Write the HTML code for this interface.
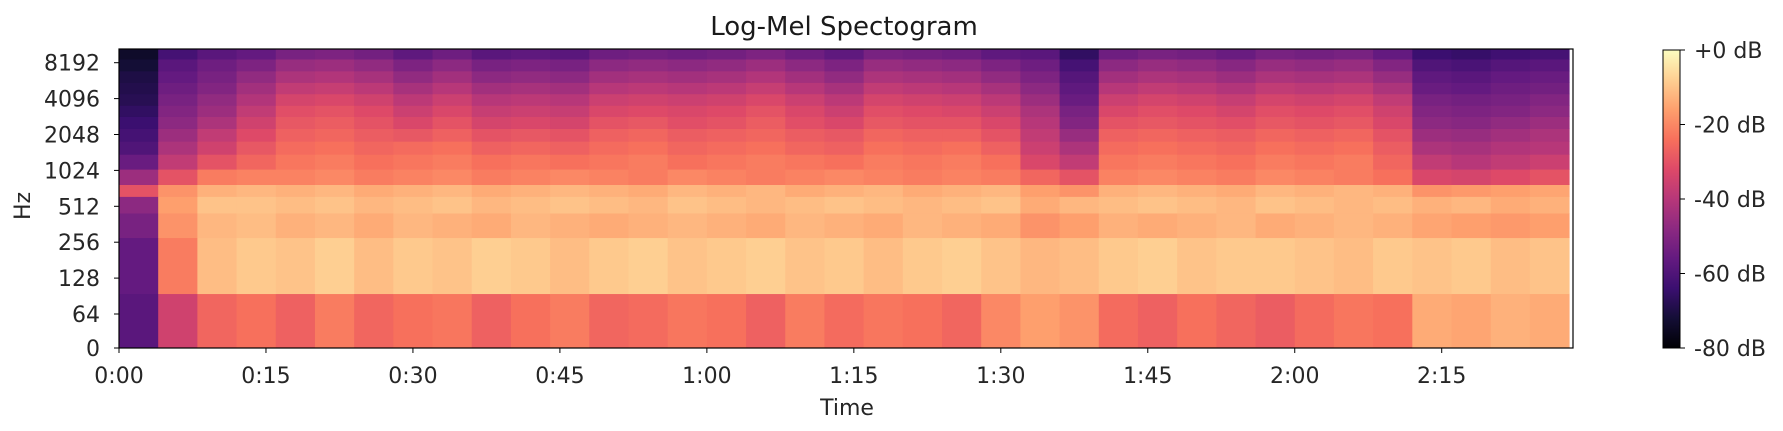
<!DOCTYPE html>
<html><head><meta charset="utf-8"><style>
body{margin:0;background:#fff;}
svg{display:block;font-family:"DejaVu Sans","Liberation Sans",sans-serif;}
</style></head><body>
<svg id="chart" width="1783" height="431" viewBox="0 0 1783 431">
<defs>
<linearGradient id="magma" x1="0" y1="1" x2="0" y2="0">
<stop offset="0" stop-color="#000004"/><stop offset="0.1" stop-color="#140e36"/><stop offset="0.2" stop-color="#3b0f70"/>
<stop offset="0.3" stop-color="#641a80"/><stop offset="0.4" stop-color="#8c2981"/><stop offset="0.5" stop-color="#b73779"/>
<stop offset="0.6" stop-color="#de4968"/><stop offset="0.7" stop-color="#f7705c"/><stop offset="0.8" stop-color="#fe9f6d"/>
<stop offset="0.9" stop-color="#fecf92"/><stop offset="1" stop-color="#fcfdbf"/>
</linearGradient>
</defs>
<text x="844" y="35" text-anchor="middle" font-size="26" fill="#1a1a1a">Log-Mel Spectogram</text>
<g id="cells"></g>
<rect x="119" y="49" width="1454" height="299" fill="none" stroke="#000" stroke-width="1.2"/>
<g id="xaxis"></g>
<g id="yaxis"></g>
<text x="847" y="415" text-anchor="middle" font-size="22" fill="#262626">Time</text>
<text x="0" y="0" transform="translate(30,206) rotate(-90)" text-anchor="middle" font-size="22" fill="#262626">Hz</text>
<rect x="1663" y="50" width="17" height="298" fill="url(#magma)" stroke="#000" stroke-width="1"/>
<g id="cbar"></g>
</svg>
<script>
const timeStep = 4; // seconds per column
const totalSeconds = 148.4;
const bandEdges = [0,95,280,450,620,780,1050,1400,1800,2300,2900,3600,4500,5600,7000,8800,11025];
const yTicks = [0,64,128,256,512,1024,2048,4096,8192];
const xTickSeconds = [0,15,30,45,60,75,90,105,120,135];
const xTickLabels = ["0:00","0:15","0:30","0:45","1:00","1:15","1:30","1:45","2:00","2:15"];
const cbarTicks = [0,-20,-40,-60,-80];
const cbarLabels = ["+0 dB","-20 dB","-40 dB","-60 dB","-80 dB"];
const b0 = [-58,-35,-26,-24,-27,-22,-26,-24,-23,-27,-24,-22,-26,-25,-23,-24,-27,-22,-25,-23,-24,-26,-20,-16,-18,-25,-27,-24,-26,-28,-25,-23,-24,-14,-15,-13,-14];
const b1 = [-56,-22,-11,-9,-10,-8,-11,-9,-10,-8,-9,-11,-9,-8,-10,-9,-8,-10,-9,-11,-9,-8,-10,-12,-11,-9,-8,-10,-9,-9,-10,-11,-9,-10,-9,-11,-10];
const b2 = [-52,-18,-12,-11,-13,-12,-14,-12,-13,-14,-12,-13,-14,-13,-12,-13,-14,-12,-13,-14,-12,-13,-14,-18,-16,-13,-14,-13,-12,-14,-13,-12,-13,-15,-16,-17,-16];
const b3 = [-48,-16,-10,-10,-11,-10,-12,-11,-10,-12,-11,-10,-11,-12,-10,-11,-12,-11,-10,-11,-12,-11,-10,-14,-12,-11,-10,-11,-12,-10,-11,-12,-11,-13,-12,-14,-13];
const b4 = [-30,-18,-13,-12,-13,-12,-14,-13,-12,-14,-13,-12,-13,-14,-12,-13,-12,-14,-13,-12,-14,-13,-12,-16,-18,-13,-12,-13,-14,-12,-13,-12,-13,-18,-17,-16,-15];
const b5 = [-45,-30,-22,-21,-21,-20,-22,-21,-20,-22,-21,-20,-21,-22,-20,-21,-22,-21,-20,-21,-22,-21,-22,-26,-30,-21,-20,-21,-22,-20,-21,-22,-24,-33,-34,-32,-30];
const b6 = [-55,-38,-30,-26,-23,-22,-24,-23,-22,-24,-23,-24,-23,-22,-24,-23,-22,-23,-24,-22,-23,-22,-24,-33,-38,-23,-22,-23,-24,-22,-23,-22,-26,-38,-40,-38,-36];
const b7 = [-60,-42,-35,-29,-25,-24,-26,-25,-24,-27,-26,-27,-25,-24,-26,-25,-24,-26,-27,-24,-25,-24,-27,-36,-42,-25,-24,-25,-26,-24,-25,-24,-28,-42,-43,-41,-40];
const b8 = [-62,-45,-38,-32,-27,-26,-28,-29,-27,-30,-29,-30,-27,-26,-28,-27,-26,-28,-29,-26,-27,-27,-30,-38,-46,-27,-26,-27,-28,-26,-27,-26,-30,-45,-46,-44,-42];
const b9 = [-64,-48,-42,-35,-29,-28,-30,-33,-30,-34,-33,-34,-30,-29,-31,-30,-28,-31,-33,-29,-30,-30,-33,-40,-50,-30,-29,-30,-31,-29,-30,-29,-33,-48,-49,-47,-45];
const b10 = [-66,-50,-45,-38,-31,-30,-32,-36,-33,-37,-36,-37,-33,-32,-33,-32,-30,-33,-36,-31,-32,-33,-36,-42,-52,-33,-31,-32,-34,-31,-32,-31,-35,-50,-51,-50,-48];
const b11 = [-68,-52,-47,-41,-34,-33,-35,-39,-36,-40,-39,-40,-36,-35,-36,-35,-33,-36,-39,-34,-35,-36,-39,-45,-55,-36,-34,-35,-37,-34,-35,-34,-38,-52,-53,-52,-50];
const b12 = [-69,-54,-50,-44,-38,-37,-39,-43,-40,-44,-43,-44,-40,-39,-40,-39,-37,-40,-43,-38,-39,-40,-43,-48,-57,-40,-38,-39,-41,-38,-39,-38,-42,-55,-56,-54,-53];
const b13 = [-70,-56,-52,-47,-42,-41,-43,-47,-44,-48,-47,-48,-44,-43,-44,-43,-41,-44,-47,-42,-43,-44,-47,-51,-59,-44,-42,-43,-45,-42,-43,-42,-46,-57,-58,-56,-55];
const b14 = [-72,-58,-54,-51,-46,-45,-47,-51,-48,-52,-51,-52,-48,-47,-48,-47,-45,-48,-51,-46,-47,-48,-51,-54,-62,-48,-46,-47,-49,-46,-47,-46,-50,-60,-61,-59,-58];
const b15 = [-74,-62,-58,-56,-52,-51,-53,-57,-54,-58,-57,-58,-54,-53,-54,-53,-51,-54,-57,-52,-53,-54,-57,-58,-66,-54,-52,-53,-55,-52,-53,-52,-56,-64,-65,-63,-62];
const bands = [b0,b1,b2,b3,b4,b5,b6,b7,b8,b9,b10,b11,b12,b13,b14,b15];

const PX0=119, PX1=1573, PY0=49, PY1=348;
function xScale(s){ return PX0 + (s/totalSeconds)*(PX1-PX0); }
function yScale(f){ return f<=64 ? 348 - 34*f/64 : 314 - 35.9*Math.log2(f/64); }
const magma=[[0,0,4],[20,14,54],[59,15,112],[100,26,128],[140,41,129],[183,55,121],[222,73,104],[247,112,92],[254,159,109],[254,207,146],[252,253,191]];
function color(db){
  let t=Math.max(0,Math.min(1,(db+80)/80))*10; let i=Math.min(9,Math.floor(t)); let f=t-i;
  const a=magma[i],b=magma[i+1];
  return 'rgb('+a.map((v,k)=>Math.round(v+(b[k]-v)*f)).join(',')+')';
}
const NS='http://www.w3.org/2000/svg';
const cells=document.getElementById('cells');
bands.forEach((row,bi)=>{
  const y1=yScale(bandEdges[bi]), y0=Math.max(PY0,yScale(bandEdges[bi+1]));
  row.forEach((v,ti)=>{
    const x0=xScale(ti*timeStep), x1=Math.min(PX1,xScale((ti+1)*timeStep));
    const r=document.createElementNS(NS,'rect');
    r.setAttribute('x',x0); r.setAttribute('y',y0);
    r.setAttribute('width',Math.max(0,x1-x0+0.5)); r.setAttribute('height',y1-y0+0.5);
    r.setAttribute('fill',color(v));
    
    
    cells.appendChild(r);
  });
});
const xa=document.getElementById('xaxis');
xTickSeconds.forEach((s,i)=>{
  const x=xScale(s);
  const l=document.createElementNS(NS,'line');
  l.setAttribute('x1',x);l.setAttribute('x2',x);l.setAttribute('y1',PY1);l.setAttribute('y2',PY1+5);l.setAttribute('stroke','#000');
  
  
  xa.appendChild(l);
  const t=document.createElementNS(NS,'text');
  t.setAttribute('x',x);t.setAttribute('y',383);t.setAttribute('text-anchor','middle');t.setAttribute('font-size','22');t.setAttribute('fill','#262626');
  t.textContent=xTickLabels[i];
  
  
  xa.appendChild(t);
});
const ya=document.getElementById('yaxis');
yTicks.forEach(f=>{
  const y=yScale(f);
  const l=document.createElementNS(NS,'line');
  l.setAttribute('x1',PX0-5);l.setAttribute('x2',PX0);l.setAttribute('y1',y);l.setAttribute('y2',y);l.setAttribute('stroke','#000');
  
  
  ya.appendChild(l);
  const t=document.createElementNS(NS,'text');
  t.setAttribute('x',100);t.setAttribute('y',y+8);t.setAttribute('text-anchor','end');t.setAttribute('font-size','22');t.setAttribute('fill','#262626');
  t.textContent=String(f);
  
  
  ya.appendChild(t);
});
const cb=document.getElementById('cbar');
cbarTicks.forEach((v,i)=>{
  const y=50+(-v/80)*298;
  const l=document.createElementNS(NS,'line');
  l.setAttribute('x1',1680);l.setAttribute('x2',1685);l.setAttribute('y1',y);l.setAttribute('y2',y);l.setAttribute('stroke','#000');
  
  
  cb.appendChild(l);
  const t=document.createElementNS(NS,'text');
  t.setAttribute('x',1694);t.setAttribute('y',y+8);t.setAttribute('font-size','22');t.setAttribute('fill','#262626');
  t.textContent=cbarLabels[i];
  
  
  cb.appendChild(t);
});
</script>
</body></html>
